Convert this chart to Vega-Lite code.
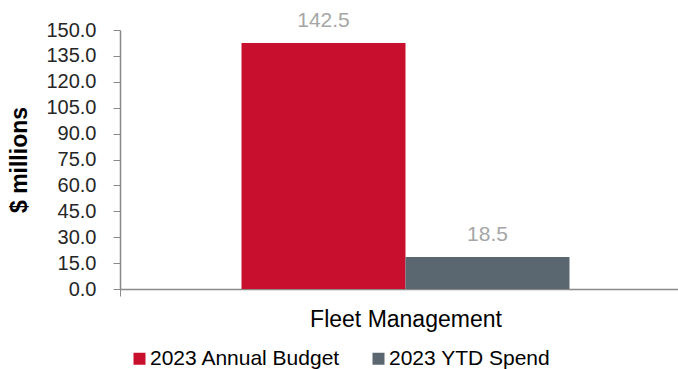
{
  "$schema": "https://vega.github.io/schema/vega-lite/v6.json",
  "width": 558,
  "height": 259,
  "autosize": {"type": "none"},
  "padding": {"left": 120, "top": 30, "right": 0, "bottom": 80},
  "background": "white",
  "config": {
    "font": "Liberation Sans",
    "view": {"stroke": null}
  },
  "data": {
    "values": [
      {"category": "Fleet Management", "series": "2023 Annual Budget", "value": 142.5},
      {"category": "Fleet Management", "series": "2023 YTD Spend", "value": 18.5}
    ]
  },
  "encoding": {
    "x": {
      "field": "category",
      "type": "nominal",
      "scale": {"range": [0, 571], "paddingInner": 0, "paddingOuter": 0},
      "axis": {
        "title": null,
        "labelAngle": 0,
        "labelFontSize": 23,
        "labelLimit": 0,
        "labelColor": "#000000",
        "labelPadding": 12,
        "domainColor": "#898989",
        "domainWidth": 1.5,
        "tickColor": "#898989",
        "tickSize": 7,
        "tickBand": "extent"
      }
    },
    "xOffset": {
      "field": "series",
      "type": "nominal",
      "scale": {"paddingInner": 0, "paddingOuter": 0.741}
    },
    "y": {
      "field": "value",
      "type": "quantitative",
      "scale": {"domain": [0, 150], "nice": false},
      "axis": {
        "title": "$ millions",
        "titleFontSize": 23,
        "titleFontWeight": "bold",
        "titleColor": "#000000",
        "titlePadding": 14,
        "values": [0, 15, 30, 45, 60, 75, 90, 105, 120, 135, 150],
        "format": ".1f",
        "grid": false,
        "labelFontSize": 20,
        "labelColor": "#262626",
        "labelPadding": 17,
        "domainColor": "#898989",
        "domainWidth": 1.5,
        "tickColor": "#898989",
        "tickSize": 7
      }
    }
  },
  "layer": [
    {
      "mark": {"type": "bar"},
      "encoding": {
        "color": {
          "field": "series",
          "type": "nominal",
          "scale": {"domain": ["2023 Annual Budget", "2023 YTD Spend"], "range": ["#C8102E", "#5B6770"]},
          "legend": {
            "title": null,
            "orient": "none",
            "direction": "horizontal",
            "legendX": 9,
            "legendY": 318,
            "symbolType": "square",
            "symbolSize": 144,
            "symbolStrokeWidth": 0,
            "symbolOpacity": 1,
            "labelFontSize": 21,
            "labelLimit": 0,
            "labelColor": "#000000",
            "labelOffset": 0,
            "columnPadding": 27,
            "padding": 0
          }
        }
      }
    },
    {
      "mark": {"type": "text", "baseline": "alphabetic", "dy": -16, "fontSize": 21, "color": "#A6A6A6"},
      "encoding": {
        "text": {"field": "value", "type": "quantitative", "format": ".1f"}
      }
    }
  ]
}
